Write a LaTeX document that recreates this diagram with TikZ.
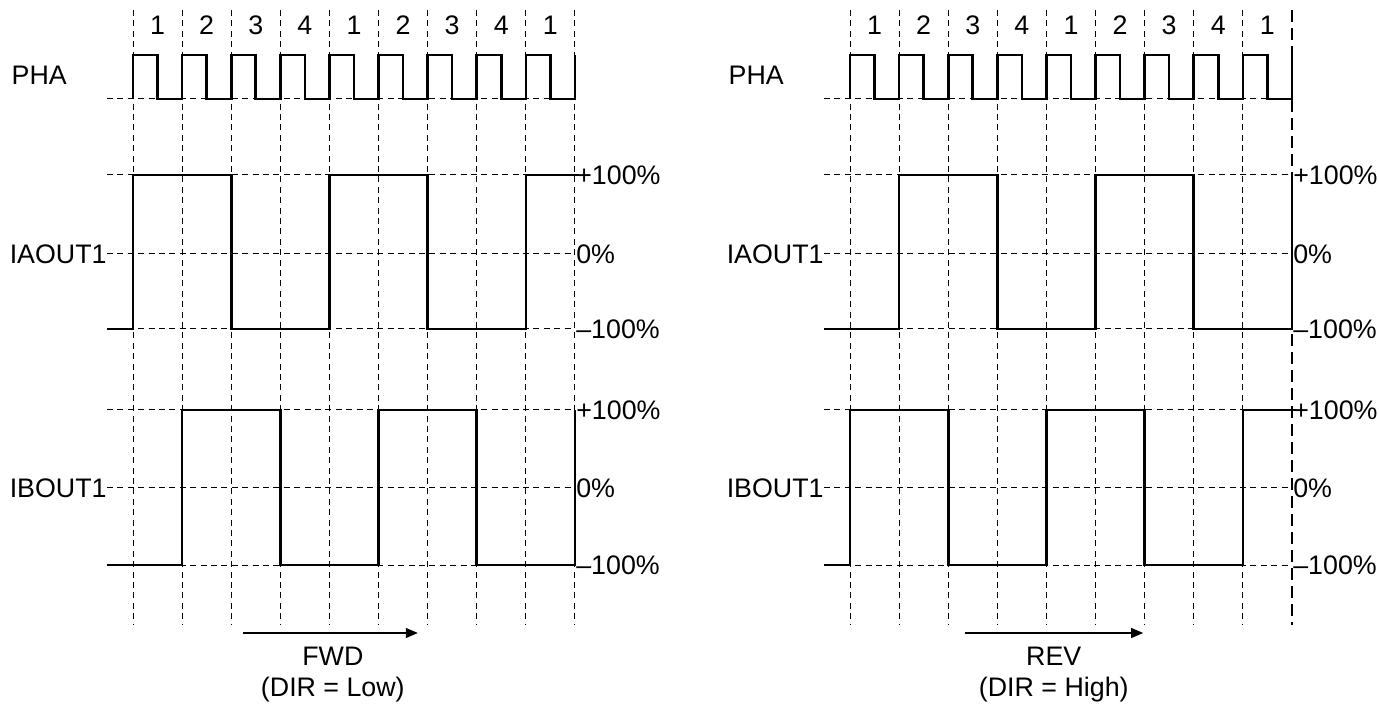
\documentclass[tikz,border=0pt]{standalone}
\usepackage{fontspec}
\setmainfont{Liberation Sans}
\usetikzlibrary{arrows.meta}

\tikzset{
  gridline/.style={black, line width=0.5pt, dash pattern=on 3pt off 2.2pt},
  endline/.style={black, line width=1pt, dash pattern=on 6pt off 3pt},
  wave/.style={black, line width=1.3pt, line join=miter},
  lbl/.style={font=\fontsize{13.4}{15}\selectfont, inner sep=1pt},
  dirarrow/.style={-{Triangle[length=6pt,width=5pt]}, line width=0.6pt},
}

\begin{document}
\begin{tikzpicture}[x=0.5pt,y=-0.5pt]

  \useasboundingbox (0,0) rectangle (1379,704);

  % -- GRID, PHASE NUMBERS, PHA (both panels) ---------------------
  \foreach \px/\pn in {66.5/L,425/R} {
    \begin{scope}[xshift=\px pt, x=24.55pt]
      \foreach \i in {0,...,8}
        \draw[gridline] (\i,10) -- (\i,625);
      \foreach \i/\n in {0/1,1/2,2/3,3/4,4/1,5/2,6/3,7/4,8/1}
        \node[lbl] (num\pn\i) at (\i+0.5,25) {\n};

      % levels
      \foreach \yy in {99,175,254,329,410,488,565}
        \draw[gridline] (-0.53,\yy) -- (9,\yy);

      \node[lbl,anchor=west,inner sep=0pt] (pha\pn) at (-2.48,75) {PHA};
      \node[lbl,anchor=east,inner sep=0pt] (ia\pn) at (-0.53,254) {IAOUT1};
      \node[lbl,anchor=east,inner sep=0pt] (ib\pn) at (-0.53,488) {IBOUT1};

      \node[lbl,anchor=west,inner sep=0.5pt] (iaP\pn) at (9,175) {+100\%};
      \node[lbl,anchor=west,inner sep=0.5pt] (iaZ\pn) at (9,254) {0\%};
      \node[lbl,anchor=west,inner sep=0.5pt] (iaN\pn) at (9,329) {--100\%};
      \node[lbl,anchor=west,inner sep=0.5pt] (ibP\pn) at (9,410) {+100\%};
      \node[lbl,anchor=west,inner sep=0.5pt] (ibZ\pn) at (9,488) {0\%};
      \node[lbl,anchor=west,inner sep=0.5pt] (ibN\pn) at (9,565) {--100\%};

      % PHA clock
      \draw[wave] (0,99) \foreach \i in {0,...,8} {
          -- (\i,55) -- (\i+0.5,55) -- (\i+0.5,99) -- (\i+1,99) } -- (9,55);
    \end{scope}
  }

  % -- LEFT PANEL: FWD ----------------------------------------------
  \begin{scope}[xshift=66.5pt, x=24.55pt]
    \draw[gridline] (9,10) -- (9,625);
    \draw[wave] (-0.53,329) -- (0,329) -- (0,175) -- (2,175) -- (2,329)
      -- (4,329) -- (4,175) -- (6,175) -- (6,329) -- (8,329) -- (8,175) -- (9.08,175);
    \draw[wave] (-0.53,565) -- (1,565) -- (1,410) -- (3,410) -- (3,565)
      -- (5,565) -- (5,410) -- (7,410) -- (7,565) -- (9,565) -- (9,410);

    \coordinate (fwdA) at (2.24,633);
    \coordinate (fwdB) at (5.8,633);
    \draw[dirarrow] (fwdA) -- (fwdB);
    \node[lbl] (fwd) at (4.07,656) {FWD};
    \node[lbl] (dirLow) at (4.07,690) {(DIR = Low)};
  \end{scope}

  % -- RIGHT PANEL: REV ---------------------------------------------
  \begin{scope}[xshift=425pt, x=24.55pt]
    \draw[endline] (9,10) -- (9,625);
    \draw[wave] (-0.53,329) -- (1,329) -- (1,175) -- (3,175) -- (3,329)
      -- (5,329) -- (5,175) -- (7,175) -- (7,329) -- (9,329) -- (9,175);
    \draw[wave] (-0.53,565) -- (0,565) -- (0,410) -- (2,410) -- (2,565)
      -- (4,565) -- (4,410) -- (6,410) -- (6,565) -- (8,565) -- (8,410) -- (9.08,410);

    \coordinate (revA) at (2.34,633);
    \coordinate (revB) at (5.97,633);
    \draw[dirarrow] (revA) -- (revB);
    \node[lbl] (rev) at (4.15,656) {REV};
    \node[lbl] (dirHigh) at (4.15,690) {(DIR = High)};
  \end{scope}

\end{tikzpicture}
\end{document}
